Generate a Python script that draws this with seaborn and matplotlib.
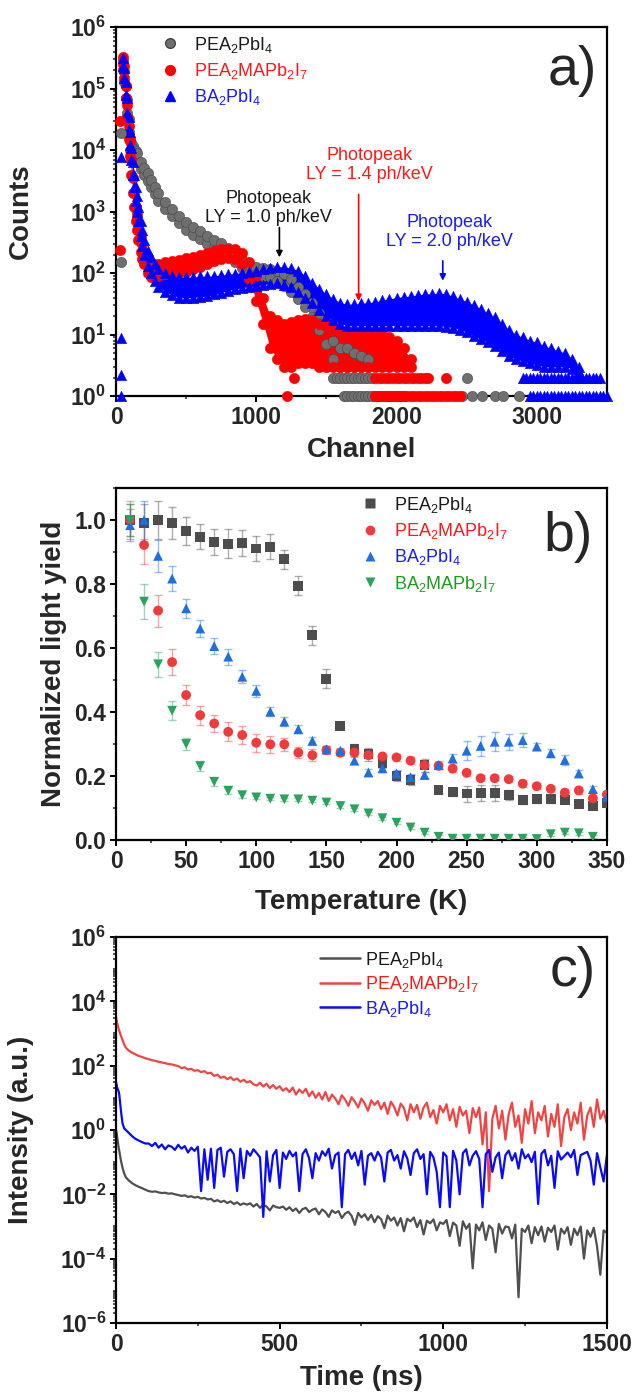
import numpy as np
import pandas as pd
import matplotlib
matplotlib.use('Agg')
import matplotlib.pyplot as plt
import seaborn as sns
from matplotlib.lines import Line2D
from matplotlib.ticker import FixedLocator, LogLocator, FuncFormatter, MultipleLocator, NullFormatter

# ---------------- panel a: pulse height spectra (band edges) ----------------
ch_gray = [50, 60, 70, 80, 90, 100, 110, 120, 130, 140, 150, 175, 200, 225, 250, 275, 300, 350,
           400, 450, 500, 550, 600, 650, 700, 750, 800, 850, 900, 950, 1000, 1050, 1100, 1150,
           1200, 1250, 1300, 1350, 1400, 1450, 1500, 1550, 1600, 1650, 1700, 1750, 1800]
gray_lo = [2.0e5, 1.3e5, 7e4, 4e4, 2e4, 1.0e4, 9e3, 8e3, 7.5e3, 7e3, 6.5e3, 5e3, 4e3, 3.2e3, 2.5e3,
           1.9e3, 1.5e3, 1.1e3, 850, 650, 510, 420, 360, 300, 260, 230, 190, 150, 120, 100, 92,
           88, 85, 75, 62, 50, 38, 28, 19, 12, 7, 4, 3, 3, 3, 3, 3]
gray_hi = [2.8e5, 1.9e5, 1.1e5, 6.5e4, 3.2e4, 1.5e4, 1.3e4, 1.15e4, 1.05e4, 9.5e3, 9e3, 6.5e3,
           5.2e3, 4.2e3, 3.3e3, 2.5e3, 2e3, 1.45e3, 1.1e3, 850, 680, 560, 480, 400, 350, 310, 260,
           210, 165, 135, 125, 120, 118, 110, 95, 80, 60, 45, 32, 22, 14, 8, 6, 6, 5, 4.5, 4]

ch_red = [50, 60, 70, 80, 90, 100, 110, 120, 130, 140, 150, 160, 175, 185, 200, 225, 250, 275, 300,
          350, 400, 450, 500, 550, 600, 650, 700, 750, 800, 850, 900, 950, 1000, 1050, 1100, 1150,
          1200, 1250, 1300, 1350, 1400, 1450, 1500, 1550, 1600, 1650, 1700, 1750, 1800, 1850,
          1900, 1950, 2000, 2050, 2100]
red_lo = [2.5e5, 1.5e5, 7e4, 3.5e4, 1.5e4, 8e3, 4e3, 2e3, 1.2e3, 700, 500, 350, 220, 170, 140, 100,
          85, 85, 90, 95, 100, 100, 105, 115, 125, 140, 155, 170, 175, 170, 140, 80, 35, 15, 6, 4,
          3, 3, 3.5, 3.5, 3.5, 3, 3, 3, 3, 3, 3, 3, 3, 3, 3, 3, 3, 3, 3]
red_hi = [3.3e5, 2.3e5, 1.1e5, 5.5e4, 2.5e4, 1.4e4, 7e3, 3.5e3, 2e3, 1.2e3, 900, 650, 400, 300, 220,
          160, 130, 125, 140, 150, 160, 165, 175, 185, 195, 210, 230, 245, 250, 245, 215, 150, 90,
          40, 20, 17, 15, 16, 17, 18, 17, 15, 14, 13, 12, 11, 10, 10, 10, 10, 10, 9, 8, 6, 4]

ch_blue = [50, 60, 70, 80, 90, 100, 110, 120, 130, 140, 150, 160, 175, 185, 200, 225, 250, 275, 300,
           350, 400, 450, 500, 550, 600, 650, 700, 750, 800, 850, 900, 950, 1000, 1050, 1100,
           1150, 1200, 1250, 1300, 1350, 1400, 1450, 1500, 1550, 1600, 1650, 1700, 1750, 1800,
           1850, 1900, 1950, 2000, 2050, 2100, 2150, 2200, 2250, 2300, 2350, 2400, 2450, 2500,
           2550, 2600, 2650, 2700, 2750, 2800, 2850, 2900, 2950, 3000, 3050, 3100, 3150, 3200,
           3250, 3300]
blue_lo = [2.3e5, 1.5e5, 8e4, 4e4, 2.2e4, 1.2e4, 7e3, 4e3, 2.5e3, 1.5e3, 1e3, 700, 400, 280, 200,
           130, 100, 75, 60, 50, 44, 40, 40, 40, 41, 42, 45, 48, 52, 55, 58, 60, 62, 65, 67, 68,
           65, 60, 50, 40, 32, 25, 20, 17, 15, 14, 14, 14, 14, 14, 14, 14, 14, 14, 14, 14, 14, 14,
           14, 13.5, 13, 12, 11, 9.5, 8.5, 7.5, 6.5, 5.5, 4.5, 4, 3.7, 3.4, 3.2, 3, 3, 3, 3, 2.8,
           2.5]
blue_hi = [3.2e5, 2.2e5, 1.3e5, 7e4, 3.5e4, 2e4, 1.1e4, 6.5e3, 4e3, 2.5e3, 1.8e3, 1.2e3, 700, 500,
           350, 230, 180, 140, 115, 100, 90, 85, 85, 85, 88, 88, 90, 92, 95, 98, 102, 105, 110,
           115, 120, 125, 125, 120, 110, 90, 70, 55, 45, 38, 33, 31, 31, 32, 33, 34, 36, 38, 40,
           41, 42, 44, 45, 46, 47, 46, 42, 38, 34, 30, 26, 22, 19, 15, 12, 10, 9, 8, 7.5, 6.5, 6,
           5.5, 5, 4, 3]

# isolated low-channel points and single-count rows
stray_gray_ch, stray_gray = [33, 33], [1.9e4, 150]
stray_red_ch, stray_red = [30, 30], [3e4, 235]
stray_blue_ch, stray_blue = [33, 33, 33, 33], [7.7e3, 8.8, 2.2, 1.0]
row2_gray_ch = list(range(1550, 1826, 25)) + [2500]
row1_gray_ch = list(range(1625, 2051, 25)) + [2470, 2540, 2610, 2700, 2760, 2870]
row2_red_ch = [1270] + list(range(1850, 2226, 25)) + [2350]
row1_red_ch = [1220] + list(range(1850, 2451, 25))
row2_blue_ch = list(range(2900, 3451, 25))
row1_blue_ch = list(range(2950, 3501, 25))

# ---------------- panel b: normalized light yield vs temperature ----------------
temp = [10, 20, 30, 40, 50, 60, 70, 80, 90, 100, 110, 120, 130, 140, 150, 160, 170, 180, 190, 200,
        210, 220, 230, 240, 250, 260, 270, 280, 290, 300, 310, 320, 330, 340, 350]
ly_pea = [1.0, 0.99, 1.0, 0.99, 0.966, 0.948, 0.932, 0.926, 0.929, 0.911, 0.917, 0.877, 0.795,
          0.64, 0.504, 0.357, 0.285, 0.268, 0.24, 0.2, 0.188, 0.234, 0.156, 0.149, 0.145, 0.146,
          0.146, 0.14, 0.125, 0.127, 0.127, 0.125, 0.112, 0.107, 0.115]
err_pea = [0.05, 0.06, 0.06, 0.05, 0.043, 0.04, 0.04, 0.045, 0.04, 0.04, 0.04, 0.03, 0.03, 0.03,
           0.03, 0.01, 0.015, 0.02, 0.015, 0.015, 0.015, 0.02, 0.01, 0.01, 0.025, 0.025, 0.025,
           0.015, 0.012, 0.01, 0.01, 0.01, 0.01, 0.01, 0.01]
ly_peama = [1.0, 0.922, 0.717, 0.556, 0.453, 0.39, 0.364, 0.338, 0.328, 0.304, 0.299, 0.299, 0.273,
            0.265, 0.281, 0.273, 0.273, 0.265, 0.261, 0.258, 0.248, 0.234, 0.232, 0.223, 0.21,
            0.193, 0.193, 0.19, 0.176, 0.168, 0.16, 0.148, 0.155, 0.13, 0.142]
err_peama = [0.06, 0.06, 0.05, 0.04, 0.03, 0.03, 0.028, 0.03, 0.028, 0.028, 0.026, 0.02, 0.018,
             0.018, 0.012, 0.01, 0.01, 0.01, 0.01, 0.01, 0.01, 0.01, 0.01, 0.01, 0.01, 0.01, 0.01,
             0.01, 0.01, 0.01, 0.01, 0.01, 0.01, 0.01, 0.01]
ly_ba = [0.984, 1.0, 0.888, 0.817, 0.724, 0.661, 0.606, 0.573, 0.51, 0.466, 0.401, 0.37, 0.346,
         0.31, 0.283, 0.279, 0.248, 0.211, 0.224, 0.208, 0.196, 0.203, 0.234, 0.255, 0.279, 0.294,
         0.307, 0.307, 0.312, 0.292, 0.271, 0.25, 0.208, 0.159, 0.135]
err_ba = [0.05, 0.06, 0.05, 0.04, 0.03, 0.028, 0.025, 0.025, 0.02, 0.018, 0.015, 0.015, 0.012, 0.012,
          0.012, 0.01, 0.01, 0.01, 0.01, 0.01, 0.01, 0.01, 0.012, 0.015, 0.03, 0.03, 0.03, 0.025,
          0.022, 0.012, 0.012, 0.015, 0.01, 0.01, 0.01]
ly_bama = [1.0, 0.745, 0.549, 0.404, 0.3, 0.231, 0.182, 0.154, 0.14, 0.133, 0.129, 0.127, 0.127,
           0.123, 0.117, 0.106, 0.096, 0.083, 0.068, 0.054, 0.039, 0.023, 0.01, 0.004, 0.004,
           0.004, 0.004, 0.004, 0.004, 0.003, 0.018, 0.023, 0.021, 0.01]
err_bama = [0.05, 0.055, 0.04, 0.03, 0.02, 0.015, 0.012, 0.01, 0.008, 0.006, 0.005, 0.005, 0.005,
            0.005, 0.005, 0.005, 0.005, 0.005, 0.005, 0.005, 0.005, 0.005, 0.005, 0.005, 0.008,
            0.008, 0.008, 0.006, 0.006, 0.005, 0.005, 0.005, 0.005, 0.005]

# ---------------- panel c: decay traces (log10 intensity) ----------------
t_ns = [0, 2, 4, 6, 8, 10, 15, 20, 25, 30, 40, 50, 60, 70, 80, 90] + list(range(100, 1501, 10))
log_pea = [0.0, -0.1, -0.25, -0.4, -0.55, -0.65, -0.95, -1.18, -1.35, -1.47, -1.58, -1.66, -1.72,
           -1.77, -1.81, -1.86,
           -1.90, -1.92, -1.91, -1.94, -1.96, -1.95, -1.98, -1.97, -2.00, -2.02,
           -2.05, -2.03, -2.08, -2.06, -2.10, -2.08, -2.13, -2.11, -2.16, -2.14,
           -2.22, -2.18, -2.24, -2.20, -2.27, -2.22, -2.30, -2.25, -2.33, -2.28,
           -2.32, -2.28, -2.38, -2.30, -2.42, -2.33, -2.38, -2.50, -2.35, -2.40,
           -2.42, -2.38, -2.48, -2.40, -2.52, -2.44, -2.58, -2.46, -2.42, -2.55,
           -2.48, -2.44, -2.62, -2.47, -2.55, -2.70, -2.50, -2.58, -2.52, -2.74,
           -2.60, -2.54, -2.67, -2.95, -2.58, -2.72, -2.62, -2.80, -2.64, -2.87,
           -2.68, -2.77, -3.05, -2.66, -2.82, -2.72, -2.97, -2.74, -3.15, -2.76,
           -2.84, -2.72, -3.02, -2.80, -3.25, -2.82, -2.90, -2.78, -3.12, -2.87,
           -2.92, -2.80, -3.30, -2.88, -2.97, -3.60, -2.84, -3.07, -2.92, -4.30,
           -2.94, -3.12, -2.87, -3.42, -2.97, -3.07, -3.80, -2.92, -3.22, -3.00,
           -3.02, -3.37, -2.94, -5.20, -3.07, -3.17, -2.97, -3.52, -3.02, -3.27,
           -3.00, -3.47, -3.04, -3.17, -2.97, -3.72, -3.07, -3.22, -3.02, -3.57,
           -3.07, -3.27, -3.00, -4.00, -3.12, -3.32, -3.04, -3.62, -4.50, -3.12,
           -3.20]
log_peama = [3.51, 3.4, 3.3, 3.22, 3.15, 3.08, 2.93, 2.8, 2.66, 2.56, 2.46, 2.4, 2.35, 2.3, 2.27,
             2.23,
             2.20, 2.17, 2.15, 2.12, 2.10, 2.08, 2.05, 2.04, 2.01, 1.99,
             1.92, 1.95, 1.88, 1.90, 1.84, 1.86, 1.80, 1.83, 1.76, 1.78,
             1.68, 1.72, 1.62, 1.66, 1.58, 1.64, 1.55, 1.60, 1.50, 1.56,
             1.48, 1.52, 1.42, 1.38, 1.47, 1.35, 1.44, 1.30, 1.40, 1.28,
             1.36, 1.22, 1.30, 1.18, 1.32, 1.10, 1.26, 1.15, 1.28, 1.05,
             1.20, 1.00, 1.15, 0.95, 1.18, 0.90, 1.10, 0.98, 0.80, 1.08,
             0.95, 0.75, 1.02, 0.88, 0.70, 0.98, 0.82, 0.60, 0.92, 0.78,
             0.90, 0.65, 0.85, 0.50, 0.88, 0.72, 0.45, 0.82, 0.68, 0.30,
             0.80, 0.55, 0.78, 0.35, 0.70, 0.85, 0.40, 0.62, 0.20, 0.75,
             0.55, 0.80, 0.30, 0.65, 0.10, 0.72, 0.45, 0.60, -0.10, 0.68,
             0.40, 0.70, -0.45, 0.55, -1.90, 0.35, 0.75, 0.05, 0.60, -0.30,
             0.50, 0.85, 0.10, 0.45, -0.40, 0.65, 0.20, 0.90, -0.10, 0.55,
             0.30, 0.75, -0.20, 0.50, 0.10, 0.80, -0.50, 0.40, 0.65, 0.00,
             0.55, 0.20, 0.85, -0.30, 0.45, 0.70, 0.10, 0.95, 0.35, 0.60,
             0.20]
log_ba = [1.49, 1.4, 1.3, 1.25, 1.2, 1.1, 0.6, 0.2, 0.05, 0.0, -0.1, -0.2, -0.28, -0.33, -0.38,
          -0.42,
          -0.42, -0.50, -0.40, -0.55, -0.45, -0.60, -0.48, -0.52, -0.62, -0.46,
          -0.58, -0.50, -0.70, -0.55, -0.65, -0.52, -1.90, -0.60, -1.55, -0.58,
          -1.80, -0.62, -0.55, -1.45, -0.68, -0.60, -0.75, -1.90, -0.58, -1.50,
          -0.65, -0.80, -0.60, -0.72, -0.85, -2.70, -0.66, -1.60, -0.78, -0.62,
          -1.80, -0.70, -0.90, -0.65, -0.82, -0.70, -1.90, -0.75, -0.60, -0.88,
          -1.50, -0.72, -0.95, -0.66, -0.80, -0.58, -1.20, -0.78, -0.70, -2.40,
          -0.75, -0.62, -0.90, -0.70, -1.10, -0.65, -1.70, -0.80, -0.72, -0.95,
          -0.68, -0.85, -1.60, -0.70, -0.62, -0.95, -0.78, -1.20, -0.66, -0.88,
          -1.40, -0.72, -0.60, -0.90, -0.75, -2.00, -0.68, -0.85, -1.30, -2.40,
          -0.70, -0.82, -2.40, -0.65, -0.95, -2.00, -0.72, -0.60, -1.10, -0.80,
          -0.66, -0.90, -2.40, -0.75, -0.62, -1.30, -0.85, -0.70, -1.50, -0.78,
          -0.64, -0.95, -0.72, -1.20, -0.60, -0.88, -0.76, -1.00, -0.68, -2.30,
          -0.74, -0.62, -1.10, -0.80, -1.80, -0.66, -0.92, np.nan, -0.70, -0.85,
          -0.62, -1.40, -0.78, np.nan, -0.68, -0.95, -1.70, -0.72, np.nan, -1.60,
          -0.80]

labels = ['PEA$_2$PbI$_4$', 'PEA$_2$MAPb$_2$I$_7$', 'BA$_2$PbI$_4$', 'BA$_2$MAPb$_2$I$_7$']
text_colors = ['#1a1a1a', '#ff1a1a', '#1a1aff', '#1c9c1c']

sns.set_theme(style='ticks')
plt.rcParams['font.family'] = ['Liberation Sans', 'DejaVu Sans']
plt.rcParams['mathtext.fontset'] = 'custom'
plt.rcParams['mathtext.rm'] = 'Liberation Sans'
plt.rcParams['mathtext.it'] = 'Liberation Sans:italic'
plt.rcParams['mathtext.bf'] = 'Liberation Sans:bold'
plt.rcParams['axes.linewidth'] = 1.6

TICK_FS = 16.5
LABEL_FS = 20


def log_label(v, pos):
    return r'$\mathbf{10^{%d}}$' % int(round(np.log10(v)))


def style_axis(ax):
    for s in ax.spines.values():
        s.set_color('black')
        s.set_linewidth(1.6)
    ax.tick_params(which='major', direction='out', length=4, width=1.4, labelsize=TICK_FS,
                   top=False, right=False, color='black', pad=3)
    ax.tick_params(which='minor', direction='out', length=2.5, width=1.1, top=False, right=False)
    for lab in ax.get_xticklabels() + ax.get_yticklabels():
        lab.set_fontweight('bold')


fig = plt.figure(figsize=(6.35, 13.96), dpi=100)
ax_a = fig.add_axes([0.1827, 0.7163, 0.773, 0.2643])
ax_b = fig.add_axes([0.1827, 0.3983, 0.773, 0.2521])
ax_c = fig.add_axes([0.1827, 0.0523, 0.773, 0.2765])

# ---- panel a ----
spec = [(ch_gray, gray_lo, gray_hi, '#6f6f6f', '#454545', 'o'),
        (ch_red, red_lo, red_hi, '#ff0000', '#ff0000', 'o'),
        (ch_blue, blue_lo, blue_hi, '#0000ff', '#0000ff', '^')]
for ch, lo, hi, col, ec, mk in spec:
    ax_a.fill_between(ch, lo, hi, color=col, lw=0, zorder=2)
    sns.scatterplot(x=ch + ch, y=lo + hi, ax=ax_a, color=col, marker=mk, s=55,
                    edgecolor=ec, linewidth=0.4, zorder=3, legend=False)

rows = [(stray_gray_ch + row2_gray_ch + row1_gray_ch,
         stray_gray + [2] * len(row2_gray_ch) + [1] * len(row1_gray_ch), '#6f6f6f', '#454545', 'o'),
        (stray_red_ch + row2_red_ch + row1_red_ch,
         stray_red + [2] * len(row2_red_ch) + [1] * len(row1_red_ch), '#ff0000', '#ff0000', 'o'),
        (stray_blue_ch + row2_blue_ch + row1_blue_ch,
         stray_blue + [2] * len(row2_blue_ch) + [1] * len(row1_blue_ch), '#0000ff', '#0000ff', '^')]
for xs, ys, col, ec, mk in rows:
    sns.scatterplot(x=xs, y=ys, ax=ax_a, color=col, marker=mk, s=55, edgecolor=ec,
                    linewidth=0.4, zorder=3, legend=False, clip_on=False)

ax_a.set_yscale('log')
ax_a.set_xlim(0, 3500)
ax_a.set_ylim(1, 1e6)
ax_a.xaxis.set_major_locator(MultipleLocator(1000))
ax_a.xaxis.set_minor_locator(MultipleLocator(500))
ax_a.yaxis.set_major_locator(LogLocator(base=10, numticks=20))
ax_a.yaxis.set_minor_locator(LogLocator(base=10, subs=np.arange(2, 10), numticks=100))
ax_a.yaxis.set_major_formatter(FuncFormatter(log_label))
ax_a.yaxis.set_minor_formatter(NullFormatter())
ax_a.set_xlabel('Channel', fontsize=LABEL_FS, fontweight='bold')
ax_a.set_ylabel('Counts', fontsize=LABEL_FS, fontweight='bold')
ax_a.yaxis.set_label_coords(-0.167, 0.5)
ax_a.xaxis.set_label_coords(0.5, -0.112)
style_axis(ax_a)

arrow = dict(arrowstyle='-|>', mutation_scale=9, lw=1.2, shrinkA=0, shrinkB=0)
ax_a.annotate('', xy=(1165, 180), xytext=(1165, 550), arrowprops=dict(arrow, color='black'))
ax_a.annotate('', xy=(1730, 35), xytext=(1730, 1900), arrowprops=dict(arrow, color='#ff0000'))
ax_a.annotate('', xy=(2330, 75), xytext=(2330, 158), arrowprops=dict(arrow, color='#0000ff'))
ax_a.text(1090, 1130, 'Photopeak\nLY = 1.0 ph/keV', ha='center', va='center', fontsize=13,
          color='#1a1a1a', linespacing=1.15)
ax_a.text(1810, 5750, 'Photopeak\nLY = 1.4 ph/keV', ha='center', va='center', fontsize=13,
          color='#ff1a1a', linespacing=1.15)
ax_a.text(2380, 473, 'Photopeak\nLY = 2.0 ph/keV', ha='center', va='center', fontsize=13,
          color='#1a1aff', linespacing=1.15)
ax_a.text(0.93, 0.88, 'a)', transform=ax_a.transAxes, ha='center', va='center', fontsize=40)

h_a = [Line2D([], [], ls='none', marker='o', ms=7, color='#6f6f6f', mec='#454545'),
       Line2D([], [], ls='none', marker='o', ms=7, color='#ff0000'),
       Line2D([], [], ls='none', marker='^', ms=7, color='#0000ff')]
ax_a.legend(h_a, labels[:3], loc='upper left', bbox_to_anchor=(0.066, 1.014), frameon=False,
            fontsize=13, labelcolor=text_colors[:3], handlelength=1.0, handletextpad=0.85,
            labelspacing=0.35, borderaxespad=0.3)

# ---- panel b ----
series_b = [(ly_pea, err_pea, '#4d4d4d', 's'), (ly_peama, err_peama, '#ef3b3b', 'o'),
            (ly_ba, err_ba, '#1f6fe0', '^'), (ly_bama, err_bama, '#2ca25f', 'v')]
for ys, es, col, mk in series_b:
    xs = temp[:len(ys)]
    ax_b.errorbar(xs, ys, yerr=es, fmt='none', ecolor=col, alpha=0.45, elinewidth=1.0,
                  capsize=3, capthick=1.0, zorder=2)
    sns.scatterplot(x=xs, y=ys, ax=ax_b, color=col, marker=mk, s=50, edgecolor='none',
                    zorder=3, legend=False)
ax_b.set_xlim(0, 350)
ax_b.set_ylim(0, 1.1)
ax_b.xaxis.set_major_locator(MultipleLocator(50))
ax_b.xaxis.set_minor_locator(MultipleLocator(25))
ax_b.yaxis.set_major_locator(MultipleLocator(0.2))
ax_b.yaxis.set_minor_locator(MultipleLocator(0.1))
ax_b.yaxis.set_major_formatter(FuncFormatter(lambda v, p: '%.1f' % v))
ax_b.set_xlabel('Temperature (K)', fontsize=LABEL_FS, fontweight='bold')
ax_b.set_ylabel('Normalized light yield', fontsize=LABEL_FS, fontweight='bold')
ax_b.yaxis.set_label_coords(-0.10, 0.5)
ax_b.xaxis.set_label_coords(0.5, -0.138)
style_axis(ax_b)
ax_b.text(0.92, 0.86, 'b)', transform=ax_b.transAxes, ha='center', va='center', fontsize=40)
h_b = [Line2D([], [], ls='none', marker=m, ms=7, color=c, mec='none')
       for _, _, c, m in series_b]
ax_b.legend(h_b, labels, loc='upper left', bbox_to_anchor=(0.474, 1.017), frameon=False,
            fontsize=13, labelcolor=text_colors, handlelength=1.0, handletextpad=0.8,
            labelspacing=0.35, borderaxespad=0.3)

# ---- panel c ----
df_c = pd.DataFrame({
    'time': t_ns * 3,
    'intensity': list(10 ** np.array(log_pea)) + list(10 ** np.array(log_peama)) +
                 list(10 ** np.array(log_ba)),
    'sample': [labels[0]] * len(t_ns) + [labels[1]] * len(t_ns) + [labels[2]] * len(t_ns),
})
pal_c = {labels[0]: '#4f4f4f', labels[1]: '#f04545', labels[2]: '#0a0aff'}
sns.lineplot(data=df_c, x='time', y='intensity', hue='sample', palette=pal_c, ax=ax_c,
             estimator=None, sort=False, lw=1.6, legend=False)
ax_c.set_yscale('log')
ax_c.set_xlim(0, 1500)
ax_c.set_ylim(1e-6, 1e6)
ax_c.xaxis.set_major_locator(MultipleLocator(500))
ax_c.xaxis.set_minor_locator(MultipleLocator(250))
ax_c.yaxis.set_major_locator(FixedLocator([1e-6, 1e-4, 1e-2, 1e0, 1e2, 1e4, 1e6]))
ax_c.yaxis.set_minor_locator(LogLocator(base=10, subs=np.arange(1, 10), numticks=100))
ax_c.yaxis.set_major_formatter(FuncFormatter(log_label))
ax_c.yaxis.set_minor_formatter(NullFormatter())
ax_c.set_xlabel('Time (ns)', fontsize=LABEL_FS, fontweight='bold')
ax_c.set_ylabel('Intensity (a.u.)', fontsize=LABEL_FS, fontweight='bold')
ax_c.yaxis.set_label_coords(-0.167, 0.5)
ax_c.xaxis.set_label_coords(0.5, -0.11)
style_axis(ax_c)
ax_c.text(0.93, 0.91, 'c)', transform=ax_c.transAxes, ha='center', va='center', fontsize=40)
h_c = [Line2D([], [], color=pal_c[l], lw=1.8) for l in labels[:3]]
ax_c.legend(h_c, labels[:3], loc='upper left', bbox_to_anchor=(0.39, 1.0), frameon=False,
            fontsize=13, labelcolor=text_colors[:3], handlelength=2.2, handletextpad=0.3,
            labelspacing=0.25, borderaxespad=0.3)

fig.savefig('out.png', dpi=100)
